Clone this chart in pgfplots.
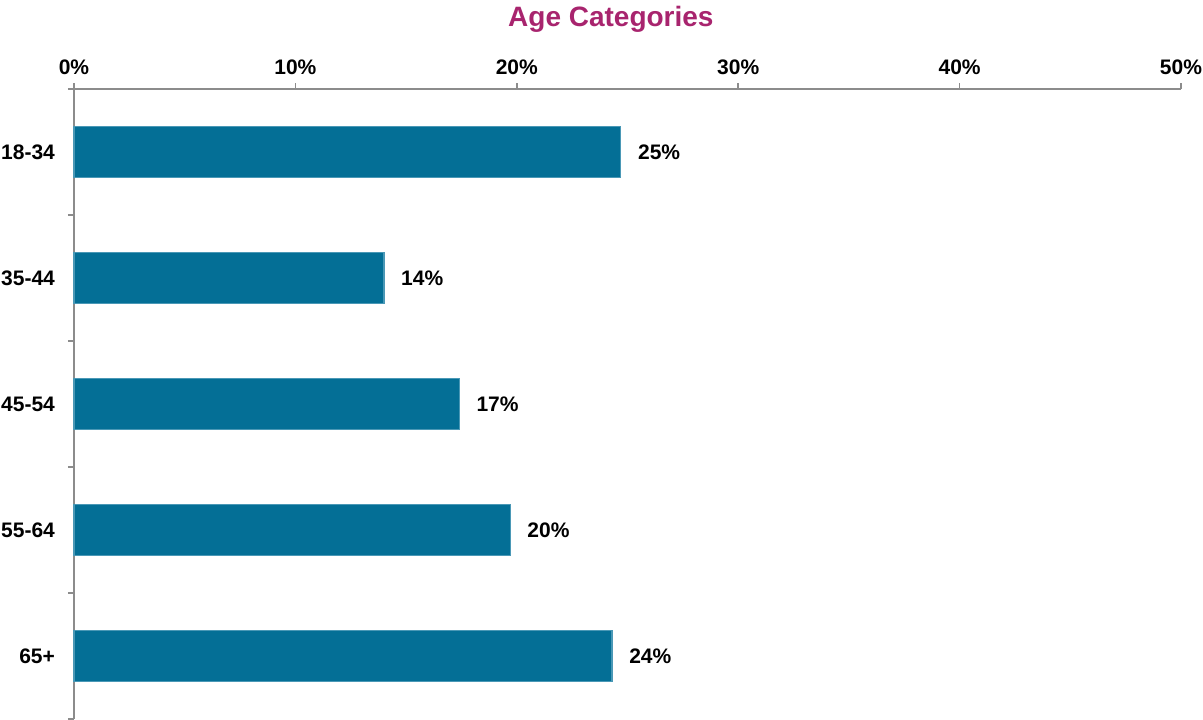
\documentclass[border=0pt]{standalone}
\usepackage{fontspec}
\setmainfont{Liberation Sans}
\usepackage{pgfplots}
\pgfplotsset{compat=1.18}
\definecolor{barblue}{HTML}{046F96}
\definecolor{baredge}{HTML}{4A98B6}
\definecolor{titlemag}{HTML}{A8246E}
\definecolor{axgray}{HTML}{8C8C8C}
\begin{document}
\begin{tikzpicture}
\path[use as bounding box] (-37pt,0pt) rectangle (564.5pt,359.5pt);
\begin{axis}[
  at={(0pt,0pt)}, anchor=south west,
  scale only axis, width=553.5pt, height=315pt,
  xmin=0, xmax=50, ymin=-0.5, ymax=4.5,
  y dir=reverse,
  axis x line=top, axis y line=left,
  axis line style={-, draw=axgray, line width=0.8pt},
  xtick={0,10,20,30,40,50},
  xticklabels={0\%,10\%,20\%,30\%,40\%,50\%},
  ytick={0,1,2,3,4},
  yticklabels={18-34,35-44,45-54,55-64,65+},
  minor ytick={-0.5,0.5,1.5,2.5,3.5,4.5},
  major y tick style={draw=none},
  tick align=outside,
  major tick length=3pt, minor tick length=3pt,
  tick style={draw=axgray, line width=0.8pt},
  tick label style={font=\bfseries\fontsize{10.5}{12.5}\selectfont, text=black},
  xticklabel style={yshift=0.5pt},
  yticklabel style={xshift=-3pt},
  clip=false,
  xbar, bar width=0.4,
  nodes near coords, point meta=explicit symbolic,
  every node near coord/.append style={font=\bfseries\fontsize{10.5}{12.5}\selectfont, text=black, anchor=west, xshift=5pt},
]
\addplot[fill=barblue, draw=baredge, line width=0.6pt] coordinates {
  (24.7,0) [25\%]
  (14.0,1) [14\%]
  (17.4,2) [17\%]
  (19.7,3) [20\%]
  (24.3,4) [24\%]
};
\node[font=\bfseries\fontsize{14}{16}\selectfont, text=titlemag] at (axis cs:24.25,-0.5) [yshift=35pt] {Age Categories};
\end{axis}
\end{tikzpicture}
\end{document}
